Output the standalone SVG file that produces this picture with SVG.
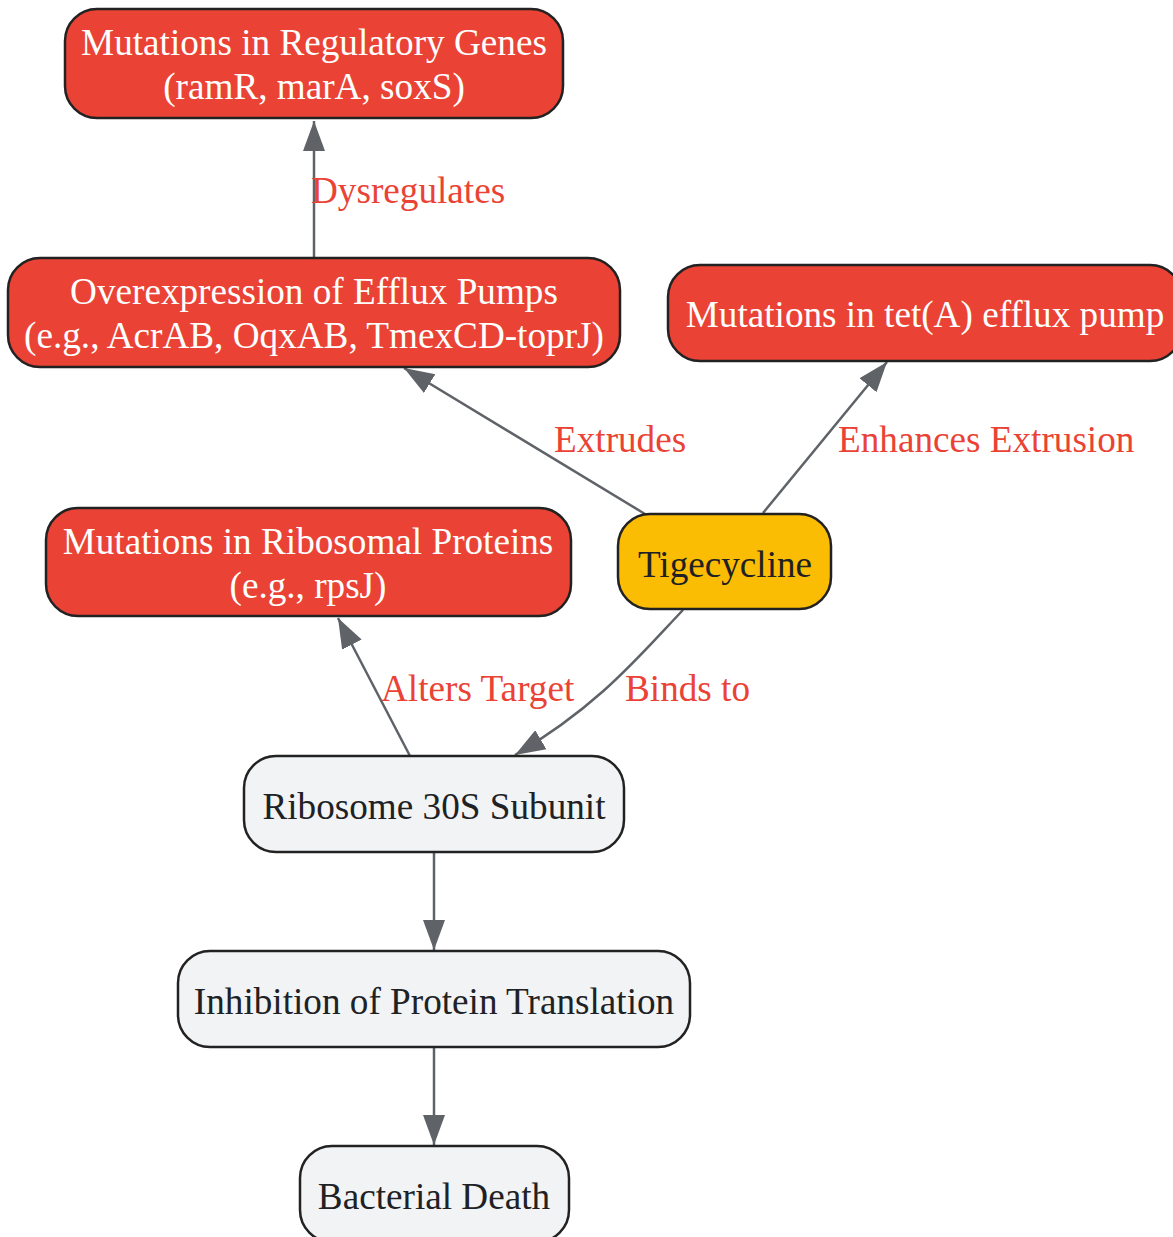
<svg xmlns="http://www.w3.org/2000/svg" width="1173" height="1237" viewBox="0 0 1173 1237">
<style>
.node rect{stroke:#222;stroke-width:2.5}
.red rect{fill:#EA4335}
.yel rect{fill:#FBBC04}
.gry rect{fill:#F1F3F4}
text{font-family:"Liberation Serif","Times New Roman",serif;font-size:37.2px;text-anchor:middle}
.red text{fill:#fff}
.yel text,.gry text{fill:#202124}
.edges path{fill:none;stroke:#5F6368;stroke-width:2.5}
.lbl{fill:#EA4335;text-anchor:start}
</style>
<defs>
<marker id="ah" markerUnits="userSpaceOnUse" markerWidth="32" markerHeight="24" refX="30" refY="11" orient="auto" viewBox="0 0 32 22">
<path d="M0,0 L30,11 L0,22 z" fill="#5F6368"/>
</marker>
</defs>
<rect width="1173" height="1237" fill="#fff"/>
<g class="edges">
<path d="M314,258 L314,121" marker-end="url(#ah)"/>
<path d="M645,514 L404,368" marker-end="url(#ah)"/>
<path d="M763,513 L887,362" marker-end="url(#ah)"/>
<path d="M410,756 L338,618" marker-end="url(#ah)"/>
<path d="M683,610 C640,655 600,705 515,755" marker-end="url(#ah)"/>
<path d="M434,852 L434,950" marker-end="url(#ah)"/>
<path d="M434,1047 L434,1145" marker-end="url(#ah)"/>
</g>
<g class="labels">
<text class="lbl" x="311" y="203">Dysregulates</text>
<text class="lbl" x="554" y="452">Extrudes</text>
<text class="lbl" x="838" y="452">Enhances Extrusion</text>
<text class="lbl" x="381" y="701">Alters Target</text>
<text class="lbl" x="625" y="701">Binds to</text>
</g>
<g id="n-regulatory" class="node red">
<rect x="65" y="9" width="498" height="109" rx="32"/>
<text x="314" y="55">Mutations in Regulatory Genes</text>
<text x="314" y="99">(ramR, marA, soxS)</text>
</g>
<g id="n-efflux" class="node red">
<rect x="8" y="258" width="612" height="109" rx="32"/>
<text x="314" y="304">Overexpression of Efflux Pumps</text>
<text x="314" y="348">(e.g., AcrAB, OqxAB, TmexCD-toprJ)</text>
</g>
<g id="n-tetA" class="node red">
<rect x="668" y="265" width="514" height="96" rx="32"/>
<text x="925" y="327">Mutations in tet(A) efflux pump</text>
</g>
<g id="n-ribo-prot" class="node red">
<rect x="46" y="508" width="525" height="108" rx="32"/>
<text x="308" y="554">Mutations in Ribosomal Proteins</text>
<text x="308" y="598">(e.g., rpsJ)</text>
</g>
<g id="n-tige" class="node yel">
<rect x="618" y="514" width="213" height="95" rx="32"/>
<text x="725" y="577">Tigecycline</text>
</g>
<g id="n-30s" class="node gry">
<rect x="244" y="756" width="380" height="96" rx="32"/>
<text x="434" y="819">Ribosome 30S Subunit</text>
</g>
<g id="n-inhib" class="node gry">
<rect x="178" y="951" width="512" height="96" rx="32"/>
<text x="434" y="1014">Inhibition of Protein Translation</text>
</g>
<g id="n-death" class="node gry">
<rect x="300" y="1146" width="269" height="96" rx="32"/>
<text x="434" y="1209">Bacterial Death</text>
</g>
</svg>
